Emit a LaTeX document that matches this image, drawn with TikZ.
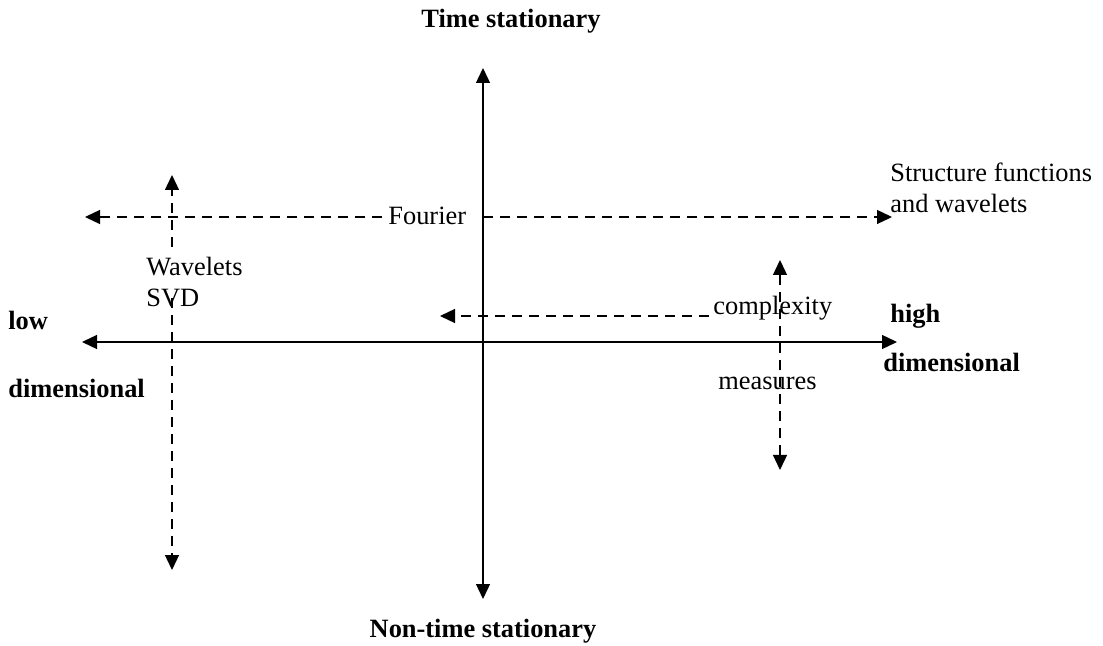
\documentclass[tikz,border=0pt]{standalone}
\usepackage{fontspec}
\setmainfont{Liberation Serif}
\usetikzlibrary{arrows.meta}

\begin{document}
\begin{tikzpicture}[x=0.5pt, y=-0.5pt,
    >={Triangle[length=7.5pt,width=7pt]},
    every node/.style={font=\fontsize{13.2}{15.5}\selectfont, inner sep=0pt, anchor=base west, align=left},
    bold/.style={font=\fontsize{13.2}{15.5}\selectfont\bfseries},
    axis/.style={line width=0.65pt},
    dashaxis/.style={line width=0.65pt, dash pattern=on 5pt off 3.5pt}]
      \useasboundingbox (0,0) rectangle (1103,646);
      % Ends of the two main axes
      \coordinate (top) at (483,68);
      \coordinate (bottom) at (483,599);
      \coordinate (left) at (82,342);
      \coordinate (right) at (897,342);
      % Axis labels
      \node[bold, anchor=base] (tstat) at (511,28) {Time stationary};
      \node[bold, anchor=base] (ntstat) at (483,637) {Non-time stationary};
      \node[bold] (low) at (8,330) {low};
      \node[bold] (ldim) at (8,398) {dimensional};
      \node[bold] (high) at (890,323) {high};
      \node[bold] (hdim) at (883,372) {dimensional};
      % Draw the main axes
      \draw[axis, <->] (left) -- (right);
      \draw[axis, <->] (bottom) -- (top);
      % Fourier
      \node[inner sep=3pt] (fourier) at (382,225) {Fourier};
      \coordinate (fl) at (85,217);
      \coordinate (fm) at (483,217);
      \coordinate (fr) at (892,217);
      \node (struct) at (890,213) {Structure functions\\and wavelets};
      \draw[dashaxis, ->] (fourier.west |- fl) -- (fl);
      \draw[dashaxis, ->] (fm) -- (fr);
      % Wavelets and SVD
      \coordinate (wt) at (172,175);
      \coordinate (wa) at (172,247);
      \coordinate (wc) at (172,298);
      \coordinate (wb) at (172,570);
      \node (wavelets) at (146,307) {Wavelets\\SVD};
      \draw[dashaxis, ->] (wa) -- (wt);
      \draw[dashaxis, ->] (wc) -- (wb);
      % Complexity measures
      \node (complexity) at (713,315) {complexity};
      \node (measures) at (718,390) {measures};
      \coordinate (cl) at (440,316);
      \coordinate (ct) at (780,260);
      \coordinate (cb) at (780,470);
      \draw[dashaxis, ->] ([xshift=-2pt]complexity.west |- cl) -- (cl);
      \draw[dashaxis, <->] (cb) -- (ct);
\end{tikzpicture}
\end{document}
